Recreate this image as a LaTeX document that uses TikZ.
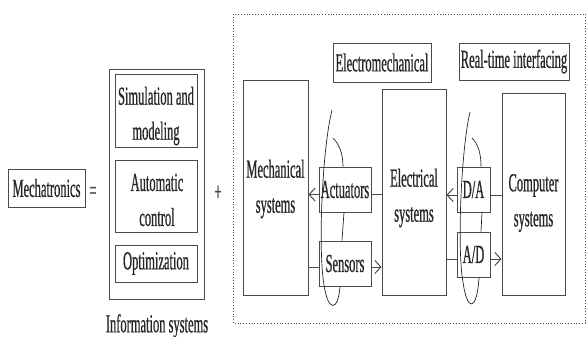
\documentclass[tikz,border=0pt]{standalone}
\usepackage{fontspec}
\setmainfont{Liberation Serif}[FakeStretch=0.48,FakeBold=0.6]
\usetikzlibrary{arrows.meta}
\definecolor{ln}{HTML}{4A4A4A}
\definecolor{tx}{HTML}{262626}
\begin{document}
\begin{tikzpicture}[x=1pt,y=-1pt,
  box/.style={draw=ln, line width=0.9pt, inner sep=0pt, text=tx, align=center, font=\fontsize{26}{35}\selectfont},
  txt/.style={text=tx, align=center, inner sep=0pt, font=\fontsize{26}{35}\selectfont},
  con/.style={draw=ln, line width=0.9pt},
  arr/.style={draw=ln, line width=0.9pt, -{Straight Barb[length=6pt,width=13pt,line width=1pt]}},
  loopline/.style={draw=tx, line width=0.7pt}]
\useasboundingbox (0,0) rectangle (587,337);

% left part
\node[box, minimum width=77pt, minimum height=38pt] (mecha) at (46.5,188) {Mechatronics};
\node[txt, text=ln] (eq) at (93,193) {=};
\node[box, minimum width=95pt, minimum height=230pt] (info) at (156.5,184) {};
\node[box, minimum width=82pt, minimum height=73pt] (sim) at (156,110.5) {};
\node[txt] (simt) at (156,116) {Simulation and\\modeling};
\node[box, minimum width=82pt, minimum height=72pt] (auto) at (156,196) {};
\node[txt] (autot) at (157,200) {Automatic\\control};
\node[box, minimum width=82pt, minimum height=37pt] (opt) at (156,263.5) {Optimization};
\node[txt] (infot) at (157,326) {Information systems};
\node[txt, text=ln] (plus) at (218,193) {+};

% dotted frame
\draw[ln, dotted, line width=0.8pt] (233,14) rectangle (585,323);

% right part
\node[box, minimum width=65pt, minimum height=215pt] (mech) at (275.5,187.5) {};
\node[txt] (mecht) at (275.5,189) {Mechanical\\systems};
\node[box, minimum width=98pt, minimum height=39pt] (em) at (382,62.5) {Electromechanical};
\node[box, minimum width=110pt, minimum height=37pt] (rt) at (514,61.5) {Real-time interfacing};
\node[box, minimum width=64pt, minimum height=206pt] (elec) at (414,192) {};
\node[txt] (elect) at (414,198) {Electrical\\systems};
\node[box, minimum width=63pt, minimum height=202pt] (comp) at (533.5,194) {};
\node[txt] (compt) at (533.5,203) {Computer\\systems};
\node[box, minimum width=52pt, minimum height=45pt] (act) at (345,189.5) {Actuators};
\node[box, minimum width=52pt, minimum height=45pt] (sens) at (345,263.5) {Sensors};
\node[box, minimum width=33pt, minimum height=45pt] (da) at (473.5,189.5) {D/A};
\node[box, minimum width=33pt, minimum height=45pt] (ad) at (473.5,254.5) {A/D};

% connectors
\coordinate (aR) at ([yshift=-5pt]act.east);
\coordinate (aL) at ([yshift=-5pt]act.west);
\draw[con] (aR -| elec.west) -- (aR);
\draw[arr] (aL) -- (aL -| mech.east);
\coordinate (sL) at ([yshift=-3.5pt]sens.west);
\coordinate (sR) at ([yshift=-3.5pt]sens.east);
\draw[con] (sL -| mech.east) -- (sL);
\draw[arr] (sR) -- (sR -| elec.west);
\coordinate (dR) at ([yshift=-5.5pt]da.east);
\coordinate (dL) at ([yshift=-5.5pt]da.west);
\draw[con] (dR -| comp.west) -- (dR);
\draw[arr] (dL) -- (dL -| elec.east);
\coordinate (adL) at ([yshift=-4.5pt]ad.west);
\coordinate (adR) at ([yshift=-4.5pt]ad.east);
\draw[con] (adL -| elec.east) -- (adL);
\draw[arr] (adR) -- (adR -| comp.west);

% loops
\draw[loopline] (332,110) .. controls (322,150) and (318,250) .. (324,285)
  .. controls (328,312) and (338,312) .. (sens.south -| 340,0);
\draw[loopline] (333,138) .. controls (339,144) and (343,153) .. (act.north -| 343,0);
\draw[loopline] (act.south -| 344,0) -- (sens.north -| 342,0);
\draw[loopline] (470,112) .. controls (461,150) and (457,250) .. (463,282)
  .. controls (467,312) and (477,312) .. (ad.south -| 479,0);
\draw[loopline] (472,138) .. controls (478,144) and (481,153) .. (da.north -| 481,0);
\draw[loopline] (da.south -| 482,0) -- (ad.north -| 481,0);
\end{tikzpicture}
\end{document}
